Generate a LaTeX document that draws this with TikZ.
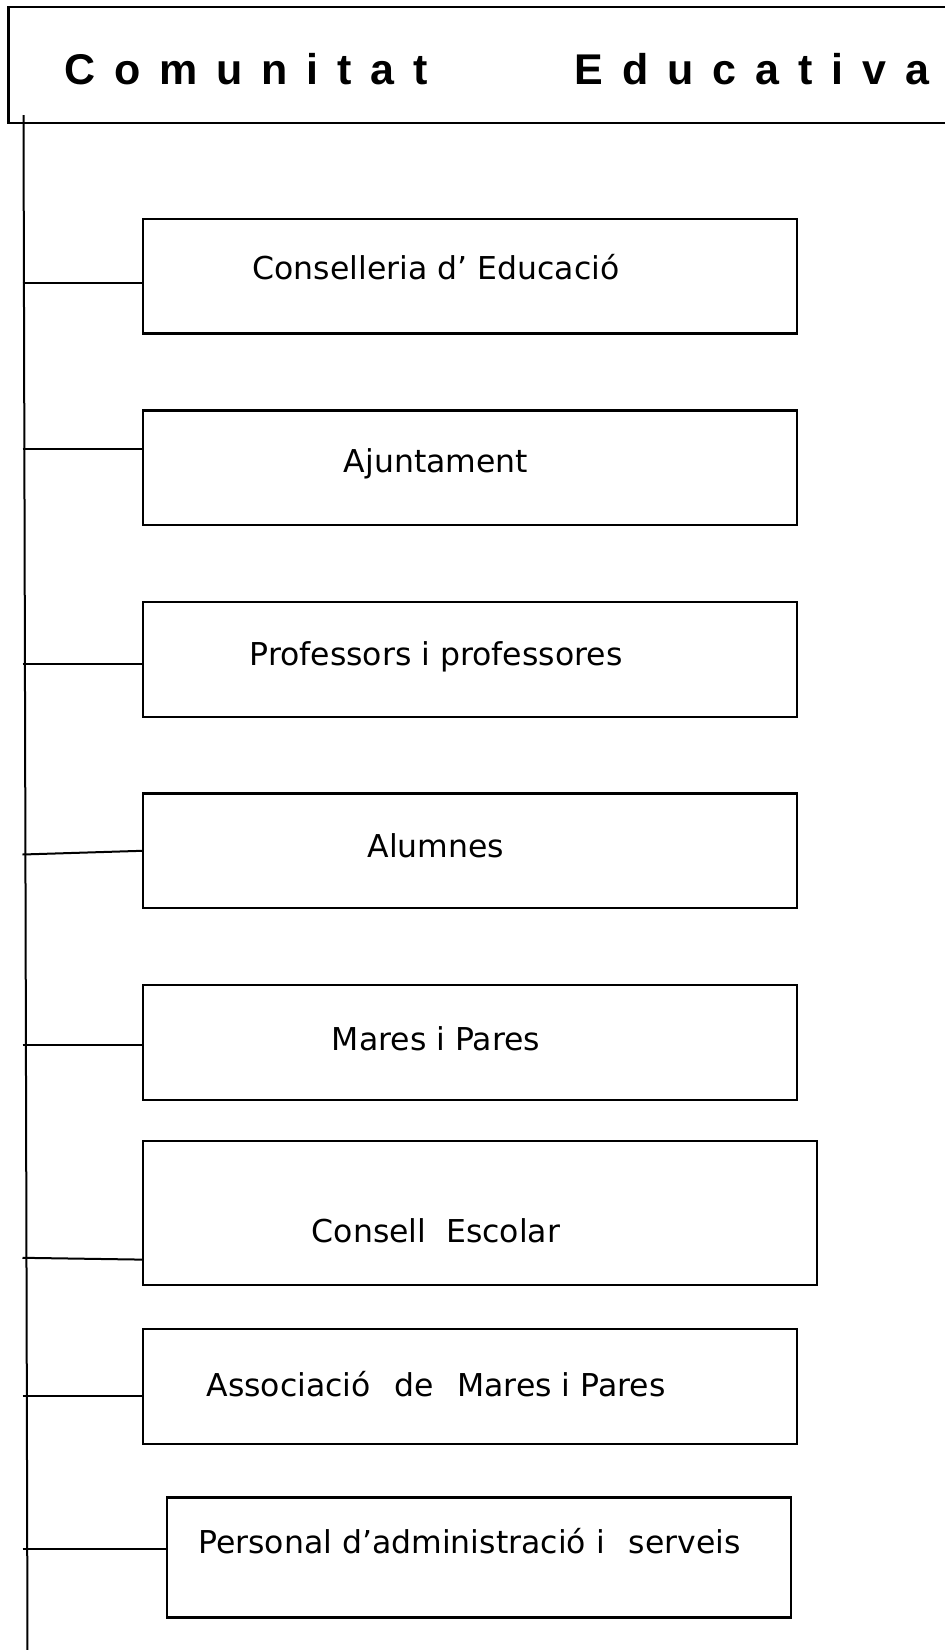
\documentclass[tikz,border=0pt]{standalone}
\usepackage{fontspec}
\setmainfont{DejaVu Sans}
\newfontfamily\headfont[LetterSpace=44]{Liberation Sans}
\begin{document}
\begin{tikzpicture}[x=1pt,y=-1pt,
  box/.style={draw,line width=2.2pt,inner sep=0pt,minimum width=653.5pt,minimum height=114.7pt},
  lbl/.style={anchor=base,inner sep=0pt,font=\fontsize{31.5}{38}\selectfont},
  word/.style={anchor=base west,inner sep=0pt,font=\headfont\bfseries\fontsize{43}{51}\selectfont},
  link/.style={line width=2pt},
  trunk/.style={line width=2pt}]
\useasboundingbox (0,0) rectangle (945,1650);
% title
\node[draw,line width=2.2pt,inner sep=0pt,minimum width=951.6pt,minimum height=115.4pt] (head) at (484.2,65) {};
\node[word] (w1) at (64,84) {Comunitat};
\node[word] (w2) at (574.5,84) {Educativa};
% boxes
\node[box] (cons) at (470,276.2) {};
\node[box] (ajun) at (470,467.8) {};
\node[box] (prof) at (470,659.3) {};
\node[box] (alum) at (470,850.8) {};
\node[box] (mares) at (470,1042.4) {};
\node[box,minimum width=673.5pt,minimum height=144.2pt] (cesc) at (479.9,1212.8) {};
\node[box] (ampa) at (470,1386.4) {};
\node[box,minimum width=624pt,minimum height=120pt] (pas) at (479.3,1557.4) {};
% texts
\node[lbl] (tcons) at (436,279.5) {Conselleria d’ Educació};
\node[lbl] (tajun) at (436,472.4) {Ajuntament};
\node[lbl] (tprof) at (436,665) {Professors i professores};
\node[lbl] (talum) at (436,857.5) {Alumnes};
\node[lbl] (tmares) at (436,1050.1) {Mares i Pares};
\node[lbl] (tcesc) at (436,1242.7) {Consell\ \ Escolar};
\node[lbl] (tampa) at (436,1396.3) {Associació\ \ \hspace{4pt}de\ \ \hspace{3pt}Mares i Pares};
\node[lbl] (tpas) at (469.5,1553.1) {Personal d’administració i\ \ \hspace{4pt}serveis};
% trunk
\coordinate (top) at (23.5,115);
\coordinate (bot) at (27.5,1652);
\draw[trunk] (top) -- (bot);
\coordinate (j1) at (22.5,283.3);
\coordinate (j2) at (22.5,449.3);
\coordinate (j3) at (22.5,664);
\coordinate (j4) at (22.5,854.5);
\coordinate (j5) at (22.5,1045);
\coordinate (j6) at (22.5,1257.8);
\coordinate (j7) at (22.5,1396.4);
\coordinate (j8) at (22.5,1549);
\path[link]
  (j1) edge (j1 -| cons.west)
  (j2) edge (j2 -| ajun.west)
  (j3) edge (j3 -| prof.west)
  (j4) edge (alum.west)
  (j5) edge (j5 -| mares.west)
  (j6) edge ([yshift=-46.8pt]cesc.west)
  (j7) edge (j7 -| ampa.west)
  (j8) edge (j8 -| pas.west)
;
\end{tikzpicture}
\end{document}
